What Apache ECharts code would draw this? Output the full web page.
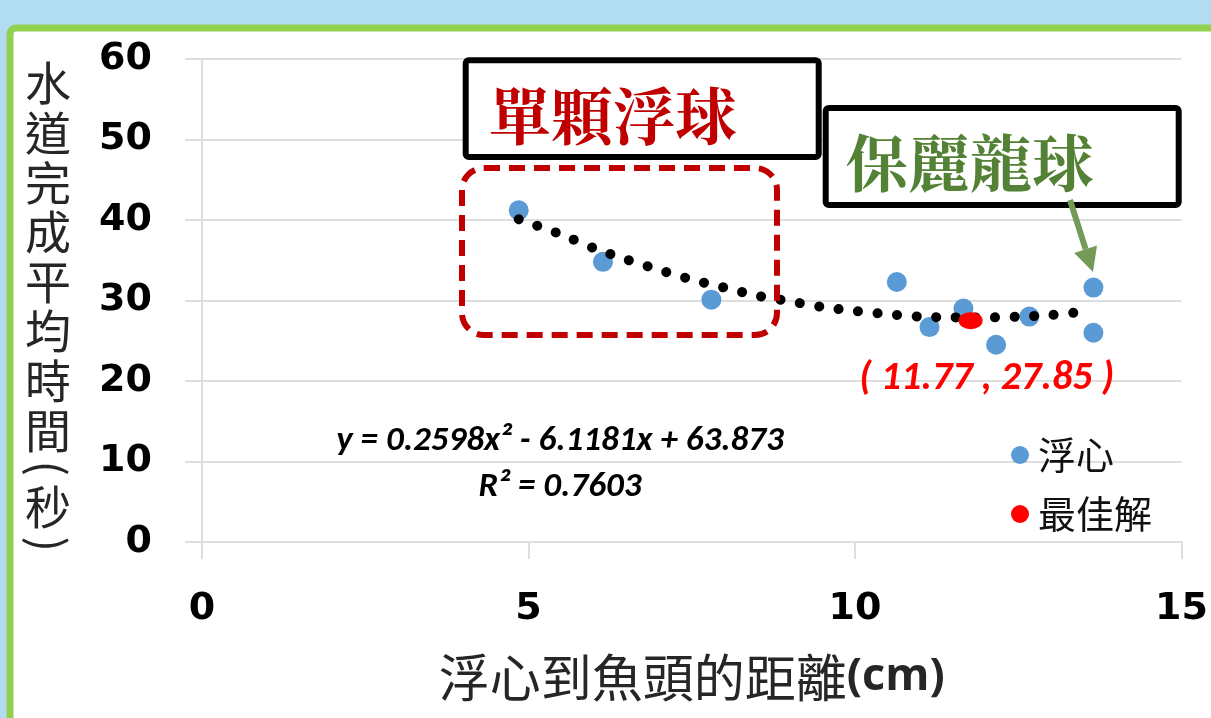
<!DOCTYPE html>
<html>
<head>
<meta charset="utf-8">
<script src="https://cdn.jsdelivr.net/npm/echarts@6/dist/echarts.min.js"></script>
<style>
html,body{margin:0;padding:0;background:#b2ddf1;}
#c{width:1211px;height:718px;}
</style>
</head>
<body>
<div id="c"></div>
<script>
// ---- data ----
const floatX = [4.85, 6.14, 7.80, 10.64, 11.14, 11.66, 12.16, 12.67, 13.65, 13.65];
const floatY = [41.2, 34.8, 30.1, 32.3, 26.7, 29.0, 24.5, 28.0, 31.6, 26.0];
const bestX = [11.77];
const bestY = [27.5];
const bestLabel = '( 11.77 , 27.85 )';
const trendX = [4.85, 5.5, 6, 6.5, 7, 7.5, 8, 8.5, 9, 9.5, 10, 10.5, 11, 11.5, 12, 12.5, 13, 13.6];
const trendY = [40.1, 38.2, 36.5, 35.1, 33.8, 32.6, 31.6, 30.6, 29.9, 29.2, 28.7, 28.3, 28.0, 27.9, 27.9, 28.0, 28.2, 28.7];
const seriesNames = ['浮心', '最佳解'];
const xRange = [0, 15, 5];
const yRange = [0, 60, 10];
const xTitleParts = ['浮心到魚頭的距離', '(cm)'];
const yTitleChars = ['水','道','完','成','平','均','時','間','(','秒',')'];
const eqLines = ['y = 0.2598x² - 6.1181x + 63.873', 'R² = 0.7603'];
const boxTexts = ['單顆浮球', '保麗龍球'];

const zip = (a, b) => a.map((v, i) => [v, b[i]]);
const chart = echarts.init(document.getElementById('c'));
const cjk = "'Noto Sans CJK TC','Noto Sans CJK SC',sans-serif";
const serifCjk = "'Noto Serif CJK TC','Noto Serif CJK SC','Noto Sans CJK TC',serif";
const numFont = "Carlito,'Liberation Sans',sans-serif";
const gridColor = '#dedede';

// vertical (stacked) y-axis title, parentheses turned sideways like the original
const yTitleGraphics = [];
(function () {
  let y = 83;
  yTitleChars.forEach((ch, i) => {
    const isParen = ch === '(' || ch === ')';
    if (i > 0) {
      const prevParen = yTitleChars[i - 1] === '(' || yTitleChars[i - 1] === ')';
      y += (isParen || prevParen) ? 38 : 49.6;
    }
    yTitleGraphics.push({
      type: 'text', z: 50, silent: true, x: 48, y: y,
      rotation: isParen ? -Math.PI / 2 : 0,
      style: {text: ch, font: '46px ' + cjk, fill: '#262626', align: 'center', verticalAlign: 'middle'}
    });
  });
})();

const option = {
  animation: false,
  backgroundColor: 'transparent',
  grid: {left: 202, right: 23, top: 59, bottom: 176},
  xAxis: {
    type: 'value', min: xRange[0], max: xRange[1], interval: xRange[2],
    name: '{a|' + xTitleParts[0] + '}{b|' + xTitleParts[1] + '}', nameLocation: 'middle', nameGap: 110,
    nameTextStyle: {
      rich: {
        a: {fontFamily: cjk, fontSize: 51, color: '#262626'},
        b: {fontFamily: "'Open Sans',sans-serif", fontWeight: 'bold', fontSize: 45, color: '#262626'}
      }
    },
    axisLine: {show: true, lineStyle: {color: gridColor, width: 2}},
    axisTick: {show: true, length: 17, lineStyle: {color: gridColor, width: 2}},
    splitLine: {show: false},
    axisLabel: {fontFamily: "'DejaVu Sans',sans-serif", fontWeight: 'bold', fontSize: 38, color: '#000', margin: 48}
  },
  yAxis: {
    type: 'value', min: yRange[0], max: yRange[1], interval: yRange[2],
    axisLine: {show: true, lineStyle: {color: gridColor, width: 2}},
    axisTick: {show: true, length: 17, lineStyle: {color: gridColor, width: 2}},
    splitLine: {show: true, lineStyle: {color: gridColor, width: 2}},
    axisLabel: {fontFamily: "'DejaVu Sans',sans-serif", fontWeight: 'bold', fontSize: 38, color: '#000', margin: 50}
  },
  legend: {
    orient: 'vertical', left: 1006, top: 431, itemGap: 21,
    itemWidth: 18, itemHeight: 18,
    textStyle: {fontFamily: cjk, fontSize: 38, color: '#111', padding: [0, 0, 0, 4]},
    data: [{name: seriesNames[0], icon: 'circle'}, {name: seriesNames[1], icon: 'circle'}]
  },
  series: [
    {
      name: seriesNames[0], type: 'scatter', z: 2,
      symbol: 'circle', symbolSize: 20,
      itemStyle: {color: '#5b9bd5', opacity: 1},
      data: zip(floatX, floatY)
    },
    {
      name: 'trend', type: 'line', z: 3, smooth: 0.3, showSymbol: false, silent: true,
      lineStyle: {color: '#000', width: 10, type: [0.1, 19.5], cap: 'round'},
      data: zip(trendX, trendY)
    },
    {
      name: seriesNames[1], type: 'scatter', z: 4,
      symbol: 'circle', symbolSize: [24, 17],
      itemStyle: {color: '#ff0000', opacity: 1},
      label: {
        show: true, position: 'bottom', distance: 30, offset: [16, 0],
        formatter: () => bestLabel,
        fontFamily: numFont, fontWeight: 'bold', fontStyle: 'italic', fontSize: 40, color: '#ff0000'
      },
      data: zip(bestX, bestY)
    }
  ],
  graphic: [
    // green-framed white panel
    {type: 'rect', z: -10, silent: true, shape: {x: 10, y: 28, width: 1300, height: 800, r: 6},
     style: {fill: '#fff', stroke: '#92d050', lineWidth: 7}},
    // dashed rounded rectangle
    {type: 'rect', z: 100, silent: true, shape: {x: 462, y: 168, width: 315, height: 167, r: 22},
     style: {fill: 'none', stroke: '#c00000', lineWidth: 6, lineDash: [16, 9]}},
    // box 1
    {type: 'rect', z: 100, silent: true, shape: {x: 465.7, y: 60.3, width: 353, height: 96.7, r: 3},
     style: {fill: '#fff', stroke: '#000', lineWidth: 6}},
    {type: 'text', z: 101, silent: true, left: 489, top: 85,
     style: {text: boxTexts[0], font: 'bold 62px ' + serifCjk, fill: '#c00000'}},
    // box 2
    {type: 'rect', z: 100, silent: true, shape: {x: 825.7, y: 108, width: 353, height: 97, r: 3},
     style: {fill: '#fff', stroke: '#000', lineWidth: 6}},
    {type: 'text', z: 101, silent: true, left: 846, top: 132,
     style: {text: boxTexts[1], font: 'bold 62px ' + serifCjk, fill: '#538135'}},
    // arrow
    {type: 'line', z: 100, silent: true, shape: {x1: 1070, y1: 200, x2: 1085.6, y2: 249.2},
     style: {stroke: '#739a56', lineWidth: 6}},
    {type: 'polygon', z: 100, silent: true, shape: {points: [[1093, 272], [1097, 245.5], [1074.2, 252.9]]},
     style: {fill: '#739a56'}},
    // trendline equation
    {type: 'text', z: 100, silent: true, x: 560, y: 441,
     style: {text: eqLines[0], font: 'italic bold 35px ' + numFont, fill: '#000', align: 'center', verticalAlign: 'middle'}},
    {type: 'text', z: 100, silent: true, x: 560, y: 487,
     style: {text: eqLines[1], font: 'italic bold 35px ' + numFont, fill: '#000', align: 'center', verticalAlign: 'middle'}}
  ].concat(yTitleGraphics)
};
chart.setOption(option);
</script>
</body>
</html>
